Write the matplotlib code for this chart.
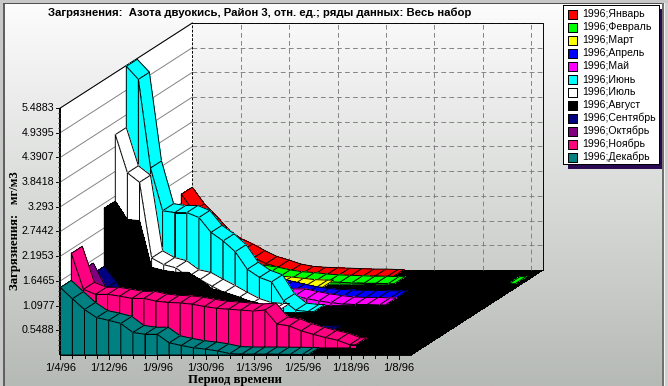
import numpy as np
import matplotlib
matplotlib.use("Agg")
import matplotlib.pyplot as plt
from matplotlib.patches import Polygon, Rectangle

# ---- data: series values (units of the value axis), one list per month, back to front
jan = [1.84,1.47,1.20,0.90,0.70,0.58,0.43,0.30,0.22,0.13,0.08,0.06,0.05,0.04,0.03,0.02,0.02,0.01]
feb = [0.60,0.50,0.42,0.38,0.34,0.30,0.28,0.26,0.22,0.16,0.12,0.10,0.07,0.05,0.04,0.03,0.02,0.02,0.01,
       0,0,0,0,0,0,0,0,0,0.01]
mar = [0.50,0.42,0.38,0.34,0.30,0.27,0.25,0.22,0.20,0.18,0.16,0.13,0.10,0.09]
apr = [0.80,0.70,0.62,0.55,0.50,0.45,0.42,0.38,0.34,0.30,0.28,0.22,0.16,0.10,0.06,0.04,0.03,0.02,0.02,0.01,0.01]
may = [0.90,0.80,0.72,0.65,0.60,0.52,0.46,0.40,0.34,0.28,0.25,0.23,0.21,0.21,0.15,0.10,0.06,0.03,0.02,0.02,0.01]
jun = [5.47,5.18,3.21,2.26,2.22,2.22,2.11,1.78,1.59,1.35,0.96,0.78,0.68,0.26,0.05,0.02]
jul = [4.11,3.26,3.05,1.37,1.22,1.15,0.95,0.89,0.74,0.60,0.45,0.31,0.22,0.20]
aug = [2.63,2.22,2.20,1.16,1.09,1.05,1.05,0.89,0.68,0.61,0.52,0.42,0.35,0.24,0.12,0.10,0.08,0.06,0.04,0.03,0.02,0.02,0.01]
sep = [1.34,1.00,0.60,0.30,0.20,0.15,0.12,0.10,0.10,0.08,0.08,0.07,0.06,0.06,0.05,0.05,0.04,0.03,0.03,0.02]
oct_ = [1.57,1.05,0.70,0.40,0.25,0.18,0.15,0.12,0.10,0.10,0.08,0.08,0.07,0.06,0.05,0.04,0.03]
nov = [2.10,1.30,1.19,1.19,1.15,1.10,1.10,1.04,1.01,1.00,0.97,0.92,0.88,0.86,0.84,0.82,0.84,0.53,0.49,0.38,0.30,0.23,0.17,0.07]
dec = [1.50,1.25,1.01,0.83,0.77,0.70,0.50,0.46,0.46,0.27,0.21,0.16,0.13,0.09,0.03,0.02,0.02,0.02,0.015,0.015,0.01]

series_values = [jan, feb, mar, apr, may, jun, jul, aug, sep, oct_, nov, dec]
series_names = ["1996;Январь","1996;Февраль","1996;Март","1996;Апрель","1996;Май","1996;Июнь",
                "1996;Июль","1996;Август","1996;Сентябрь","1996;Октябрь","1996;Ноябрь","1996;Декабрь"]
series_colors = ["#ff0000","#00ff00","#ffff00","#0000ff","#ff00ff","#00ffff",
                 "#ffffff","#000000","#000080","#800080","#ff0080","#008080"]
y_ticks = [0.5488,1.0977,1.6465,2.1953,2.7442,3.293,3.8418,4.3907,4.9395,5.4883]
y_tick_labels = ["0.5488","1.0977","1.6465","2.1953","2.7442","3.293","3.8418","4.3907","4.9395","5.4883"]
x_tick_labels = ["1/4/96","1/12/96","1/9/96","1/30/96","1/13/96","1/25/96","1/18/96","1/8/96"]
title_text = "Загрязнения:  Азота двуокись, Район 3, отн. ед.; ряды данных: Весь набор"

# ---- oblique projection (category, depth, value) -> pixels
N_CAT = 29
X0, Y0 = 60.3, 355.0
DX = 12.1          # px per category
DEPTH_X, DEPTH_Y = 132.0/12, 85.0/12   # px per depth slot
PX_PER_UNIT = 247.0/5.4883
Z_MAX = 5.4883

def proj(i, depth, v):
    return (X0 + i*DX + depth*DEPTH_X, Y0 - depth*DEPTH_Y - v*PX_PER_UNIT)

fig = plt.figure(figsize=(6.68, 3.86), dpi=100)
ax = fig.add_axes([0, 0, 1, 1])
ax.axis("off")

# background gradient
grad = np.linspace(0, 1, 386).reshape(386, 1, 1)
c_top = np.array([0xfd, 0xfd, 0xfd]) / 255
c_bot = np.array([0xb6, 0xba, 0xb6]) / 255
img = c_top + (c_bot - c_top) * grad
ax.imshow(img, extent=[0, 668, 386, 0], aspect="auto", zorder=0, interpolation="bilinear")
ax.set_xlim(0, 668)
ax.set_ylim(386, 0)

LW = 0.68
LWE = 0.68
Z = 12  # series depth range
corner = proj
# left wall & floor
ax.add_patch(Polygon([corner(0,0,0), corner(0,0,Z_MAX), corner(0,Z,Z_MAX), corner(0,Z,0)],
                     fc="white", ec="none", zorder=1, antialiased=False))
ax.add_patch(Polygon([corner(0,0,0), corner(N_CAT,0,0), corner(N_CAT,Z,0), corner(0,Z,0)],
                     fc="black", ec="none", zorder=1, antialiased=False))
# grid
DASH = (0,(5,3.5))
for t in y_ticks:
    a, b = corner(0,0,t), corner(0,Z,t)
    ax.plot([a[0],b[0]],[a[1],b[1]], color="#808080", lw=LW, zorder=2)
    c = corner(N_CAT,Z,t)
    ax.plot([b[0],c[0]],[b[1],c[1]], color="#808080", lw=LW, ls=DASH, zorder=2)
for k in range(1, 8):
    a, b = corner(k*4,Z,0), corner(k*4,Z,Z_MAX)
    ax.plot([a[0],b[0]],[a[1],b[1]], color="#808080", lw=LW, ls=DASH, zorder=2)
# frame of back wall / top
a, b, c, d = corner(0,Z,0), corner(0,Z,Z_MAX), corner(N_CAT,Z,Z_MAX), corner(N_CAT,Z,0)
ax.plot([b[0],c[0],d[0]],[b[1],c[1],d[1]], color="black", lw=LW, zorder=2)
ax.plot([a[0],b[0]],[a[1],b[1]], color="black", lw=LW, ls=(0,(3,1.5)), zorder=2)
o = corner(0,0,Z_MAX)
ax.plot([o[0],b[0]],[o[1],b[1]], color="black", lw=LW, zorder=2)

def face(points, col, z):
    ax.add_patch(Polygon(points, fc=col, ec="none", zorder=z, antialiased=False))
    ax.add_patch(Polygon(points, fill=False, ec="black", lw=LWE, zorder=z, antialiased=True, joinstyle="round"))

# ribbons, back to front
z = 3.0
for idx, (vals, col) in enumerate(zip(series_values, series_colors)):
    d0 = 11 - idx          # front edge depth slot
    d1 = d0 + 1
    pos = [i for i, v in enumerate(vals) if v > 0]
    segs = []
    for i in pos:
        if i + 1 < len(vals) and vals[i+1] > 0:
            segs.append((i, vals[i], i+1, vals[i+1]))
        else:
            segs.append((i, vals[i], i+0.5, vals[i]))
    for (i0, v0, i1, v1) in segs:
        face([proj(i0,d0,v0), proj(i0,d1,v0), proj(i1,d1,v1), proj(i1,d0,v1)], col, z)
    z += 0.01
    for (i0, v0, i1, v1) in segs:
        face([proj(i0,d0,v0), proj(i1,d0,v1), proj(i1,d0,0), proj(i0,d0,0)], col, z)
    z += 0.01

# value axis
bot, top = proj(0,0,0), proj(0,0,Z_MAX)
ax.plot([bot[0],top[0]],[bot[1],top[1]], color="black", lw=1.4, zorder=5, solid_capstyle="butt")
for t, lab in zip(y_ticks, y_tick_labels):
    p = proj(0,0,t)
    ax.plot([p[0]-4,p[0]],[p[1],p[1]], color="black", lw=LW, zorder=5)
    ax.text(p[0]-6, p[1], lab, ha="right", va="center", fontsize=7.7, family="Liberation Sans", zorder=6)
for t in np.arange(0.1098, Z_MAX, 0.1098):
    p = proj(0,0,t)
    ax.plot([p[0]-2,p[0]],[p[1],p[1]], color="#404040", lw=0.5, zorder=5)

# category axis
r = proj(N_CAT,0,0)
ax.plot([bot[0],r[0]],[bot[1],r[1]], color="black", lw=LW, zorder=5)
for i in range(N_CAT):
    p = proj(i,0,0)
    ax.plot([p[0],p[0]],[p[1],p[1]+(4 if i%4==0 else 2.5)], color="black", lw=LW, zorder=5)
for k, lab in enumerate(x_tick_labels):
    p = proj(k*4,0,0)
    ax.text(p[0], p[1]+13, lab, ha="center", va="center", fontsize=8.0, family="Liberation Sans", zorder=6)

# titles
ax.text(260, 13, title_text, ha="center", va="center", fontsize=8.2, fontweight="bold",
        family="Liberation Sans", zorder=6)
ax.text(235, 380.5, "Период времени", ha="center", va="center", fontsize=9.2, fontweight="bold",
        family="Liberation Serif", zorder=6)
ax.text(15, 231, "Загрязнения:   мг/м3", ha="center", va="center", rotation=90, fontsize=9.2,
        fontweight="bold", family="Liberation Serif", zorder=6)

# legend
ax.add_patch(Rectangle((568,9),95,160, fc="#2a0a50", ec="none", zorder=7, antialiased=False))
ax.add_patch(Rectangle((563,5),95.5,159, fc="white", ec="black", lw=LW, zorder=8, antialiased=False))
for k, (name, col) in enumerate(zip(series_names, series_colors)):
    y = 14 + k*13
    ax.add_patch(Rectangle((567.5,y-4.5),9.5,9, fc=col, ec="black", lw=LW, zorder=9, antialiased=False))
    ax.text(582, y, name, ha="left", va="center", fontsize=7.6, family="Liberation Sans", zorder=9)

# window edge
ax.add_patch(Rectangle((0,0),3,386, fc="#c8c8c8", ec="none", zorder=10))
ax.add_patch(Rectangle((3,3),1.5,383, fc="#606060", ec="none", zorder=10))
ax.add_patch(Rectangle((662,0),1.5,386, fc="#707070", ec="none", zorder=10))
ax.add_patch(Rectangle((663.5,0),1.5,386, fc="#f4f4f4", ec="none", zorder=10))
ax.add_patch(Rectangle((665,0),3,386, fc="#d0d0d0", ec="none", zorder=10))
ax.add_patch(Rectangle((0,0),668,3, fc="#c8c8c8", ec="none", zorder=10))
ax.add_patch(Rectangle((3,3),659,1.2, fc="#505050", ec="none", zorder=10))

fig.savefig("out.png", dpi=100)
